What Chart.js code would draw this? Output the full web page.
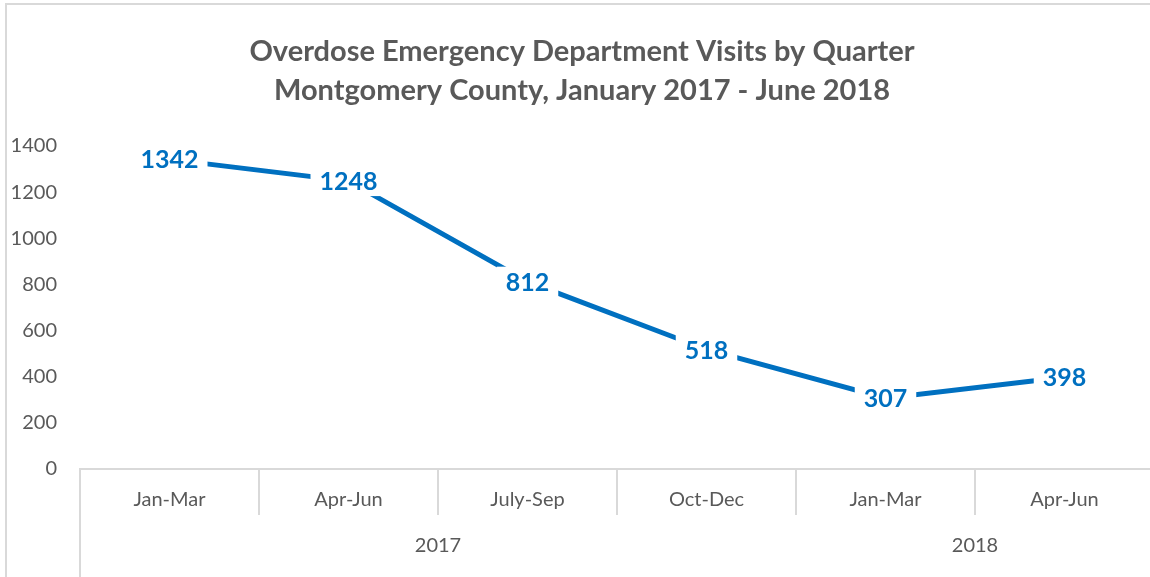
<!DOCTYPE html>
<html>
<head>
<meta charset="utf-8">
<script src="https://cdn.jsdelivr.net/npm/chart.js@4/dist/chart.umd.min.js"></script>
<style>
  body { margin: 0; overflow: hidden; background: #fff; }
  #wrap { width: 1154px; height: 577px; }
</style>
</head>
<body>
<div id="wrap"><canvas id="myChart" width="1154" height="577"></canvas></div>
<script>
const titleLines = ['Overdose Emergency Department Visits by Quarter', 'Montgomery County, January 2017 - June 2018'];
const quarters = ['Jan-Mar', 'Apr-Jun', 'July-Sep', 'Oct-Dec', 'Jan-Mar', 'Apr-Jun'];
const years = ['2017', '2018'];
const quartersPerYear = [4, 2];
const visits = [1342, 1248, 812, 518, 307, 398];
const yMin = 0, yMax = 1400, yStep = 200;

const textGray = '#595959';
const lineGray = '#D9D9D9';
const blue = '#0070C0';
const fontName = 'Lato, "Open Sans", sans-serif';

const extras = {
    id: 'extras',
    beforeDraw(chart) {
        const ctx = chart.ctx;
        ctx.save();
        ctx.fillStyle = lineGray;
        ctx.fillRect(5, 3, 2, 577);
        ctx.fillRect(5, 3, 1150, 2);
        ctx.restore();
    },
    afterDraw(chart) {
        const ctx = chart.ctx;
        const x = chart.scales.x;
        const area = chart.chartArea;
        ctx.save();
        // left edge of category axis runs to the bottom
        ctx.strokeStyle = lineGray;
        ctx.lineWidth = 2;
        ctx.beginPath();
        ctx.moveTo(area.left, area.bottom);
        ctx.lineTo(area.left, chart.height);
        ctx.stroke();

        // year row
        const half = (x.getPixelForValue(1) - x.getPixelForValue(0)) / 2;
        ctx.fillStyle = textGray;
        ctx.font = '20px ' + fontName;
        ctx.textAlign = 'center';
        ctx.textBaseline = 'middle';
        let start = 0;
        years.forEach((yr, i) => {
            const end = start + quartersPerYear[i] - 1;
            const l = x.getPixelForValue(start) - half;
            const r = x.getPixelForValue(end) + half;
            ctx.fillText(yr, (l + r) / 2, 546);
            start = end + 1;
        });
        ctx.restore();
    },
    afterDatasetsDraw(chart) {
        const ctx = chart.ctx;
        const meta = chart.getDatasetMeta(0);
        ctx.save();
        ctx.font = 'bold 25px ' + fontName;
        ctx.textAlign = 'center';
        ctx.textBaseline = 'middle';
        meta.data.forEach((pt, i) => {
            const txt = String(visits[i]);
            const w = ctx.measureText(txt).width;
            ctx.fillStyle = '#fff';
            ctx.fillRect(pt.x - w / 2 - 9, pt.y - 15, w + 18, 30);
            ctx.fillStyle = blue;
            ctx.fillText(txt, pt.x, pt.y + 1);
        });
        ctx.restore();
    }
};

const ctx = document.getElementById('myChart').getContext('2d');
const myChart = new Chart(ctx, {
    type: 'line',
    data: {
        labels: quarters,
        datasets: [{
            label: 'Visits',
            data: visits,
            borderColor: blue,
            borderWidth: 5,
            pointRadius: 0,
            tension: 0,
            fill: false
        }]
    },
    options: {
        responsive: false,
        animation: false,
        devicePixelRatio: 1,
        layout: { padding: { left: 10, right: 0, top: 0, bottom: 0 } },
        plugins: {
            legend: { display: false },
            tooltip: { enabled: false },
            title: {
                display: true,
                text: titleLines,
                color: textGray,
                font: { family: fontName, size: 29, weight: 'bold', lineHeight: 1.345 },
                padding: { top: 32, bottom: 36 }
            }
        },
        scales: {
            x: {
                offset: true,
                grid: {
                    offset: true,
                    drawOnChartArea: false,
                    drawTicks: true,
                    tickLength: 46,
                    color: lineGray,
                    lineWidth: 2
                },
                border: { display: true, color: lineGray, width: 2 },
                ticks: {
                    color: textGray,
                    font: { family: fontName, size: 20 },
                    padding: -27,
                    maxRotation: 0,
                    autoSkip: false
                },
                afterFit(scale) { scale.height = 108; }
            },
            y: {
                min: yMin,
                max: yMax,
                grid: { display: false, drawTicks: false },
                border: { display: false },
                ticks: {
                    stepSize: yStep,
                    color: textGray,
                    font: { family: fontName, size: 20 },
                    padding: 23,
                    callback: (v) => String(v)
                },
                afterFit(scale) { scale.width = 70; }
            }
        }
    },
    plugins: [extras]
});
</script>
</body>
</html>
